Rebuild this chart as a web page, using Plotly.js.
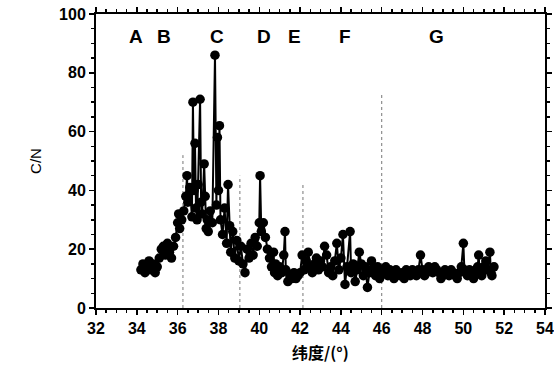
<!DOCTYPE html>
<html><head><meta charset="utf-8">
<script src="https://cdn.plot.ly/plotly-3.0.1.min.js"></script>
<style>html,body{margin:0;padding:0;background:#fff}#chart{width:554px;height:373px}</style>
</head><body><div id="chart"></div>
<script>
const latitude = [34.2,34.3,34.4,34.5,34.6,34.7,34.8,34.9,35.0,35.1,35.2,35.3,35.4,35.5,35.6,35.7,35.8,35.9,36.0,36.05,36.1,36.2,
36.3,36.4,36.46,36.5,36.6,36.7,36.75,36.8,36.85,36.9,36.95,37.0,37.1,37.15,37.2,37.3,37.35,37.4,37.45,37.5,37.6,37.7,37.83,37.9,37.95,38.0,38.05,38.1,38.2,38.3,38.4,38.47,38.55,38.6,38.7,38.8,38.9,39.0,39.1,39.2,39.3,39.4,39.5,39.6,39.7,39.8,39.9,40.0,40.04,40.1,40.2,40.3,40.4,40.5,40.6,40.7,40.75,40.8,40.9,41.0,41.1,41.2,41.26,41.3,41.4,41.5,41.6,41.7,41.8,41.9,42.0,42.1,42.2,42.3,42.4,42.5,42.6,42.7,42.8,42.9,43.0,43.1,43.2,43.3,43.4,43.5,43.6,43.7,43.8,43.9,44.0,44.1,44.2,44.3,44.45,44.5,44.6,44.7,44.8,44.9,45.0,45.1,45.2,45.3,45.4,45.5,45.6,45.7,45.8,45.9,
46.0,46.1,46.2,46.3,46.4,46.5,46.6,46.7,46.8,46.9,47.0,47.1,47.2,47.3,47.4,47.5,47.6,47.7,47.8,47.9,48.0,48.1,48.2,48.3,48.4,48.5,48.6,48.7,48.8,48.9,49.0,49.1,49.2,49.3,49.4,49.5,49.6,49.7,49.8,49.9,50.0,50.05,50.1,50.2,50.3,50.4,50.5,50.6,50.7,50.75,50.8,50.9,51.0,51.1,51.2,51.3,51.35,51.4,51.5];
const cnRatio = [13,15,12,14,16,13,15,12,14,17,20,21,18,22,19,17,21,24,29,32,27,30,
33,38,45,36,41,31,70,40,56,34,30,42,71,36,32,49,38,27,30,26,33,29,86,35,58,40,62,30,25,34,22,42,28,19,26,17,23,16,21,15,12,20,17,22,18,24,21,29,45,26,29,24,20,17,14,19,12,15,11,14,12,18,26,13,9,11,10,12,10,11,12,18,13,16,19,14,12,15,17,13,16,14,21,18,12,14,11,16,22,13,17,25,8,14,26,12,15,9,13,19,15,11,14,7,12,16,13,11,14,10,
13,12,14,11,13,12,10,13,12,11,12,10,13,12,11,13,12,11,13,18,13,11,12,14,13,12,14,13,12,10,11,13,12,11,13,12,11,10,12,14,22,13,12,11,13,12,10,13,14,18,12,11,14,16,13,19,12,11,14];
const zoneLabels = ['A','B','C','D','E','F','G'];
const zoneX = [33.95,35.35,37.95,40.25,41.75,44.2,48.7];
const boundaryX = [36.26,39.05,42.14,46.0];
const boundaryTop = [52,45,42,73];

const trace = {
  x: latitude, y: cnRatio, type: 'scatter', mode: 'lines+markers',
  line: {color: '#000', width: 2},
  marker: {color: '#000', size: 9.5},
  showlegend: false, hoverinfo: 'x+y'
};
const shapes = boundaryX.map((bx, i) => ({
  type: 'line', xref: 'x', yref: 'y', x0: bx, x1: bx, y0: 0, y1: boundaryTop[i],
  line: {color: '#777', width: 1, dash: 'dot'}, layer: 'below'
}));
const annotations = zoneLabels.map((t, i) => ({
  x: zoneX[i], y: 92.5, xref: 'x', yref: 'y', text: t, showarrow: false,
  font: {family: 'Liberation Sans, Arial, sans-serif', size: 19, color: '#000', weight: 'bold'}
}));
const tickFont = {family: 'Liberation Sans, Arial, sans-serif', size: 16, color: '#000', weight: 'bold'};
const layout = {
  width: 554, height: 373,
  margin: {l: 96, r: 9, t: 14, b: 65},
  paper_bgcolor: '#fff', plot_bgcolor: '#fff',
  xaxis: {
    range: [32, 54], dtick: 2, tick0: 32, showgrid: false, zeroline: false,
    showline: true, linecolor: '#000', linewidth: 2, mirror: 'allticks',
    ticks: 'outside', ticklen: 5, tickwidth: 1.5, tickcolor: '#000',
    minor: {dtick: 0.5, ticks: 'outside', ticklen: 3, tickcolor: '#000', showgrid: false},
    tickfont: tickFont,
    title: {text: '纬度/(°)', standoff: 12, font: {family: 'Noto Sans CJK SC, sans-serif', size: 16, color: '#000', weight: 'bold'}}
  },
  yaxis: {
    range: [0, 100], dtick: 20, showgrid: false, zeroline: false,
    showline: true, linecolor: '#000', linewidth: 2, mirror: 'allticks',
    ticks: 'outside', ticklen: 5, tickwidth: 1.5, tickcolor: '#000',
    minor: {dtick: 5, ticks: 'outside', ticklen: 3, tickcolor: '#000', showgrid: false},
    tickfont: tickFont,
    title: {text: 'C/N', standoff: 14, font: {family: 'Liberation Sans, Arial, sans-serif', size: 15, color: '#000'}}
  },
  shapes: shapes, annotations: annotations
};
Plotly.newPlot('chart', [trace], layout, {staticPlot: true, displayModeBar: false});
</script></body></html>
